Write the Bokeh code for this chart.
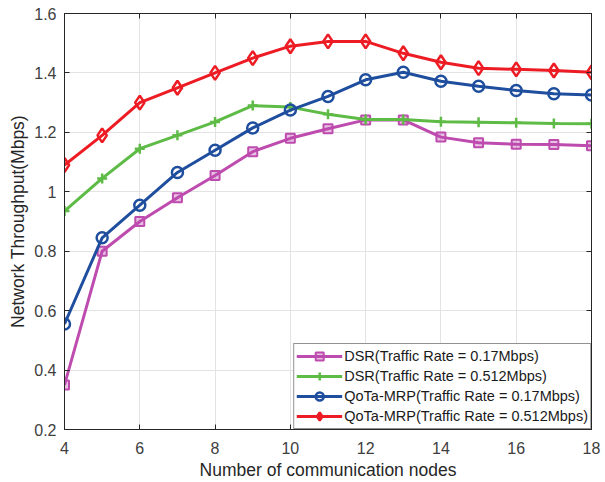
from bokeh.plotting import figure
from bokeh.models import FixedTicker, LinearAxis, Range1d, Legend, LegendItem
from bokeh.embed import file_html
from bokeh.resources import INLINE

nodes = [4, 5, 6, 7, 8, 9, 10, 11, 12, 13, 14, 15, 16, 17, 18]
dsr_017 = [0.35, 0.80, 0.90, 0.98, 1.055, 1.135, 1.18, 1.212, 1.242, 1.242, 1.184, 1.165, 1.16, 1.159, 1.155]
dsr_0512 = [0.935, 1.045, 1.145, 1.19, 1.235, 1.29, 1.285, 1.261, 1.243, 1.243, 1.236, 1.234, 1.232, 1.230, 1.229]
qota_017 = [0.555, 0.845, 0.955, 1.065, 1.14, 1.215, 1.275, 1.321, 1.377, 1.402, 1.372, 1.355, 1.341, 1.330, 1.326]
qota_0512 = [1.09, 1.19, 1.30, 1.35, 1.40, 1.45, 1.49, 1.506, 1.506, 1.466, 1.436, 1.416, 1.412, 1.408, 1.402]

x_ticks = [4, 6, 8, 10, 12, 14, 16, 18]
y_ticks = [0.2, 0.4, 0.6, 0.8, 1.0, 1.2, 1.4, 1.6]
y_tick_labels = ["0.2", "0.4", "0.6", "0.8", "1", "1.2", "1.4", "1.6"]

labels = ["DSR(Traffic Rate = 0.17Mbps)", "DSR(Traffic Rate = 0.512Mbps)",
          "QoTa-MRP(Traffic Rate = 0.17Mbps)", "QoTa-MRP(Traffic Rate = 0.512Mbps)"]

FONT = "Liberation Sans"
TXT = "#262626"

p = figure(width=605, height=482, output_backend="svg", toolbar_location=None,
           x_range=Range1d(4, 18), y_range=Range1d(0.2, 1.6),
           min_border_left=64, min_border_right=14, min_border_top=13, min_border_bottom=53)
p.background_fill_color = "white"
p.border_fill_color = "white"
p.outline_line_color = "#262626"
p.outline_line_width = 1

p.xaxis.ticker = FixedTicker(ticks=x_ticks)
p.yaxis.ticker = FixedTicker(ticks=y_ticks)
p.yaxis.major_label_overrides = {t: l for t, l in zip(y_ticks, y_tick_labels)}
p.xaxis.axis_label = "Number of communication nodes"
p.yaxis.axis_label = "Network Throughput(Mbps)"
for ax in (p.xaxis[0], p.yaxis[0]):
    ax.axis_label_text_font = FONT
    ax.axis_label_text_font_style = "normal"
    ax.axis_label_text_font_size = "17.5px"
    ax.axis_label_text_color = TXT
    ax.major_label_text_font = FONT
    ax.major_label_text_font_size = "16px"
    ax.major_label_text_color = "#404040"
    ax.axis_line_color = "#262626"
    ax.major_tick_line_color = "#262626"
    ax.major_tick_in = 5
    ax.major_tick_out = 0
    ax.minor_tick_line_color = None
p.xaxis.major_label_standoff = 12
p.yaxis.major_label_standoff = 8
p.xaxis.axis_label_standoff = 3
p.yaxis.axis_label_standoff = 3

for loc in ("above", "right"):
    ax = LinearAxis(ticker=FixedTicker(ticks=x_ticks if loc == "above" else y_ticks))
    ax.major_label_text_font_size = "0px"
    ax.major_label_text_color = None
    ax.major_tick_in = 5
    ax.major_tick_out = 0
    ax.minor_tick_line_color = None
    ax.axis_line_color = "#262626"
    ax.major_tick_line_color = "#262626"
    p.add_layout(ax, loc)

p.xgrid.grid_line_color = "#E3E3E3"
p.ygrid.grid_line_color = "#E3E3E3"

c_mag = "#BE4BAE"
c_grn = "#5DBB46"
c_blu = "#1F4E9E"
c_red = "#ED1C24"

items = []
r1 = p.line(nodes, dsr_017, line_color=c_mag, line_width=3)
m1 = p.scatter(nodes, dsr_017, marker="square", size=9, line_color=c_mag, line_width=2,
               fill_color=c_mag, fill_alpha=0.35)
items.append(LegendItem(label=labels[0], renderers=[r1, m1]))
r2 = p.line(nodes, dsr_0512, line_color=c_grn, line_width=3)
m2 = p.scatter(nodes, dsr_0512, marker="cross", size=10, line_color=c_grn, line_width=2.5)
items.append(LegendItem(label=labels[1], renderers=[r2, m2]))
r3 = p.line(nodes, qota_017, line_color=c_blu, line_width=3)
m3 = p.scatter(nodes, qota_017, marker="circle", size=11, line_color=c_blu, line_width=2.5,
               fill_color=None)
items.append(LegendItem(label=labels[2], renderers=[r3, m3]))
r4 = p.line(nodes, qota_0512, line_color=c_red, line_width=3)
m4 = p.scatter(nodes, qota_0512, marker="diamond", size=14, line_color=c_red, line_width=2.5,
               fill_color=None)
items.append(LegendItem(label=labels[3], renderers=[r4, m4]))

legend = Legend(items=items, location="bottom_right")
legend.label_text_font = FONT
legend.label_text_font_size = "14.5px"
legend.label_text_color = "#1a1a1a"
legend.border_line_color = "#262626"
legend.border_line_width = 1
legend.margin = 0
legend.padding = 2
legend.spacing = 0
legend.label_height = 20
legend.glyph_height = 20
legend.glyph_width = 46
legend.label_standoff = 2
legend.background_fill_alpha = 1
p.add_layout(legend)

open("out.html", "w").write(file_html(p, INLINE))
